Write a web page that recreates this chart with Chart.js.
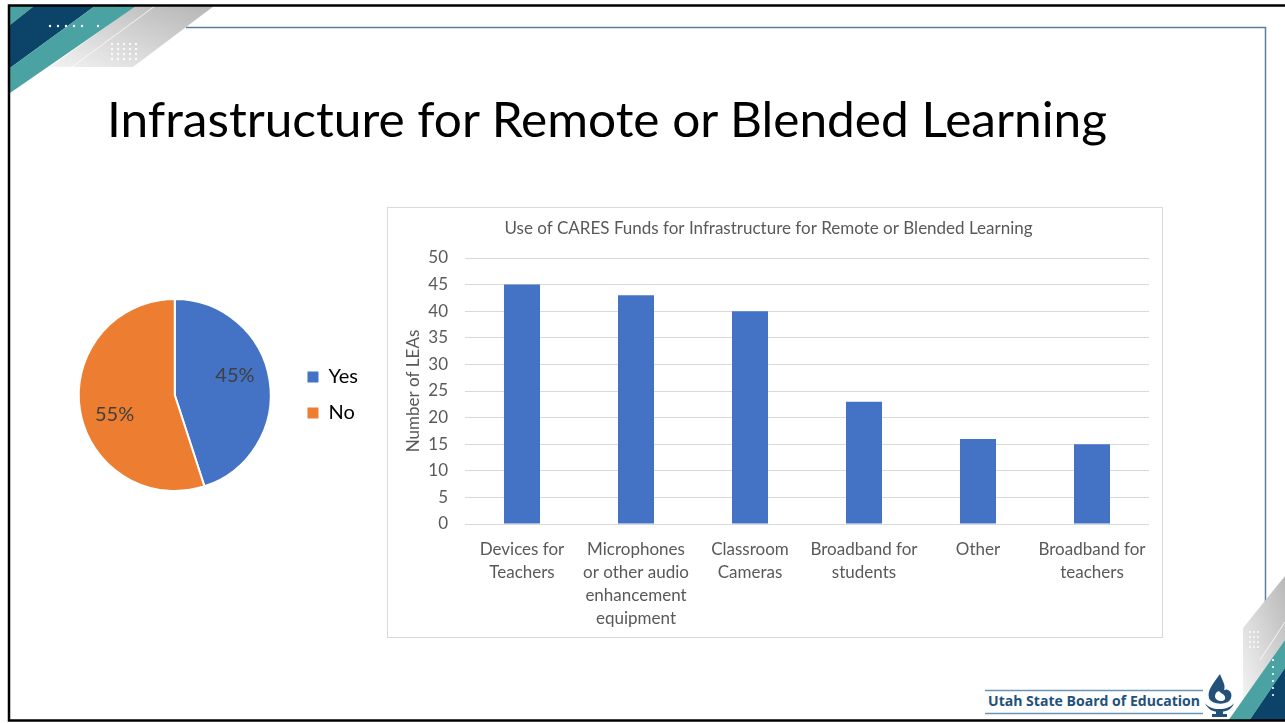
<!DOCTYPE html>
<html>
<head>
<meta charset="utf-8">
<script src="https://cdn.jsdelivr.net/npm/chart.js@4.4.1/dist/chart.umd.min.js"></script>
<style>
  html, body { margin:0; padding:0; background:#fff; }
  body { width:1285px; height:723px; position:relative; overflow:hidden; font-family: Lato, "Open Sans", sans-serif; }
  #deco { position:absolute; left:0; top:0; }
  .fit { position:absolute; white-space:nowrap; transform-origin:0 0; }
  #title { left:107px; top:95px; font-size:48px; line-height:1; color:#000; }
  #pieWrap { position:absolute; left:54px; top:245px; width:330px; height:300px; }
  #barBox { position:absolute; left:387px; top:207px; width:774px; height:429px; border:1px solid #d9d9d9; }
  canvas { display:block; }
  #logo { left:988px; top:694px; font-size:14px; line-height:1; font-weight:bold; color:#23517a; font-family:"Open Sans", Lato, sans-serif; }
</style>
</head>
<body>
<script>
// ---- data ----
const pieLabels = ["Yes", "No"];
const pieValues = [45, 55];
const pieColors = ["#4472C4", "#ED7D31"];

const barCategories = [
  ["Devices for", "Teachers"],
  ["Microphones", "or other audio", "enhancement", "equipment"],
  ["Classroom", "Cameras"],
  ["Broadband for", "students"],
  ["Other"],
  ["Broadband for", "teachers"]
];
const barValues = [45, 43, 40, 23, 16, 15];
const yTicks = [0, 5, 10, 15, 20, 25, 30, 35, 40, 45, 50];
const chartTitle = "Use of CARES Funds for Infrastructure for Remote or Blended Learning";
const yAxisTitle = "Number of LEAs";
</script>

<svg id="deco" width="1285" height="723" xmlns="http://www.w3.org/2000/svg">
  <defs>
    <linearGradient id="g1" x1="0" y1="1" x2="1" y2="0">
      <stop offset="0" stop-color="#f2f2f2"/>
      <stop offset="1" stop-color="#b5b5b5"/>
    </linearGradient>
    <linearGradient id="g2" x1="0" y1="1" x2="1" y2="0">
      <stop offset="0" stop-color="#f4f4f4"/>
      <stop offset="1" stop-color="#b8b8b8"/>
    </linearGradient>
  </defs>
  <polygon points="135,6 214,6 133,67 50,67" fill="url(#g1)"/>
  <line x1="155" y1="6" x2="72" y2="67" stroke="#ffffff" stroke-width="1" opacity="0.8"/>
  <polygon points="10,6 34,6 10,25" fill="#4aa3a2"/>
  <polygon points="34,6 95,6 10,68 10,25" fill="#0b4468"/>
  <polygon points="95,6 136,6 10,93 10,68" fill="#4aa3a2"/>
  <g fill="#ffffff">
    <circle cx="50" cy="26" r="1.2"/><circle cx="58" cy="26" r="1.2"/><circle cx="66" cy="26" r="1.2"/>
    <circle cx="74" cy="26" r="1.2"/><circle cx="82" cy="26" r="1.2"/><circle cx="98" cy="26" r="1.2"/>
  </g>
  <g fill="#ffffff" opacity="0.9">
    <circle cx="112" cy="44" r="1.2"/><circle cx="118" cy="44" r="1.2"/><circle cx="124" cy="44" r="1.2"/><circle cx="130" cy="44" r="1.2"/><circle cx="136" cy="44" r="1.2"/>
    <circle cx="112" cy="49" r="1.2"/><circle cx="118" cy="49" r="1.2"/><circle cx="124" cy="49" r="1.2"/><circle cx="130" cy="49" r="1.2"/><circle cx="136" cy="49" r="1.2"/>
    <circle cx="112" cy="54" r="1.2"/><circle cx="118" cy="54" r="1.2"/><circle cx="124" cy="54" r="1.2"/><circle cx="130" cy="54" r="1.2"/><circle cx="136" cy="54" r="1.2"/>
    <circle cx="112" cy="59" r="1.2"/><circle cx="118" cy="59" r="1.2"/><circle cx="124" cy="59" r="1.2"/><circle cx="130" cy="59" r="1.2"/><circle cx="136" cy="59" r="1.2"/>
  </g>
  <polyline points="186,27.5 1265.5,27.5 1265.5,606" fill="none" stroke="#5a7f9c" stroke-width="1.5"/>
  <polygon points="1243,628 1285,576 1285,640 1243,701" fill="url(#g2)"/>
  <line x1="1260" y1="660" x2="1285" y2="622" stroke="#ffffff" stroke-width="1" opacity="0.8"/>
  <polygon points="1228,721 1285,640 1285,668 1249,721" fill="#4aa3a2"/>
  <polygon points="1249,721 1285,668 1285,721" fill="#0b4468"/>
  <g fill="#ffffff" opacity="0.9">
    <circle cx="1250" cy="632" r="1"/><circle cx="1254" cy="632" r="1"/><circle cx="1258" cy="632" r="1"/>
    <circle cx="1250" cy="637" r="1"/><circle cx="1254" cy="637" r="1"/><circle cx="1258" cy="637" r="1"/>
    <circle cx="1250" cy="642" r="1"/><circle cx="1254" cy="642" r="1"/><circle cx="1258" cy="642" r="1"/>
    <circle cx="1250" cy="647" r="1"/><circle cx="1254" cy="647" r="1"/><circle cx="1258" cy="647" r="1"/>
  </g>
  <g fill="#ffffff">
    <circle cx="1273" cy="660" r="1.1"/><circle cx="1273" cy="667" r="1.1"/><circle cx="1273" cy="674" r="1.1"/>
    <circle cx="1273" cy="681" r="1.1"/><circle cx="1273" cy="688" r="1.1"/><circle cx="1273" cy="695" r="1.1"/>
  </g>
  <rect x="9" y="5.5" width="1290" height="715" fill="none" stroke="#000" stroke-width="2.5"/>
  <line x1="985" y1="690.5" x2="1203" y2="690.5" stroke="#6d93b3" stroke-width="1.5"/>
  <line x1="985" y1="713.5" x2="1203" y2="713.5" stroke="#6d93b3" stroke-width="1.5"/>
  <g fill="#23517a">
    <path d="M1220,674 C1213,684 1207,690 1209,698 C1211,705 1229,706 1231,698 C1233,692 1228,688 1224,690 C1226,685 1222,680 1220,674 Z"/>
    <path d="M1215,697 C1215,692 1219,690 1220,692 C1222,694 1226,695 1225,699 C1224,702 1216,702 1215,697 Z" fill="#ffffff"/>
    <path d="M1205,703 C1208,710 1214,712 1219,712 C1225,712 1232,710 1234,703 C1231,707 1226,709 1219,709 C1213,709 1208,707 1205,703 Z"/>
    <rect x="1216" y="711" width="7" height="3"/>
    <rect x="1212" y="714" width="15" height="3"/>
  </g>
</svg>

<div id="title" class="fit" data-w="1000">Infrastructure for Remote or Blended Learning</div>
<div id="logo" class="fit" data-w="212">Utah State Board of Education</div>

<div id="pieWrap"><canvas id="pie" width="330" height="300"></canvas></div>
<div id="barBox"><canvas id="bar" width="774" height="429"></canvas></div>

<script>
document.querySelectorAll('.fit').forEach(el => {
  const w = el.getBoundingClientRect().width;
  const target = parseFloat(el.dataset.w);
  el.style.transform = 'scaleX(' + (target / w) + ')';
});

Chart.defaults.font.family = 'Lato, "Open Sans", sans-serif';
Chart.defaults.color = '#595959';

const pieLabelPlugin = {
  id: 'pieLabels',
  afterDatasetsDraw(chart) {
    const ctx = chart.ctx;
    const meta = chart.getDatasetMeta(0);
    const total = pieValues.reduce((a, b) => a + b, 0);
    ctx.save();
    ctx.font = '20px Lato, "Open Sans", sans-serif';
    ctx.fillStyle = '#404040';
    ctx.textAlign = 'center';
    ctx.textBaseline = 'middle';
    meta.data.forEach((arc, i) => {
      const p = arc.getProps(['x', 'y', 'startAngle', 'endAngle', 'outerRadius']);
      const mid = (p.startAngle + p.endAngle) / 2 - 0.16;
      const r = p.outerRadius * 0.66;
      const txt = Math.round(pieValues[i] / total * 100) + '%';
      ctx.fillText(txt, p.x + Math.cos(mid) * r, p.y + Math.sin(mid) * r);
    });
    ctx.restore();
  }
};

new Chart(document.getElementById('pie'), {
  type: 'pie',
  data: {
    labels: pieLabels,
    datasets: [{ data: pieValues, backgroundColor: pieColors, borderColor: '#ffffff', borderWidth: 2 }]
  },
  options: {
    responsive: false,
    animation: false,
    devicePixelRatio: 1,
    layout: { padding: { left: 4, right: 16, top: 53, bottom: 53 } },
    plugins: {
      tooltip: { enabled: false },
      legend: {
        position: 'right',
        labels: {
          boxWidth: 11, boxHeight: 11, padding: 16,
          font: { size: 20 }, color: '#595959',
          generateLabels(chart) {
            return pieLabels.map((l, i) => ({ text: l, fillStyle: pieColors[i], strokeStyle: pieColors[i], lineWidth: 0, index: i, hidden: false }));
          }
        }
      }
    }
  },
  plugins: [pieLabelPlugin]
});

new Chart(document.getElementById('bar'), {
  type: 'bar',
  data: {
    labels: barCategories,
    datasets: [{ data: barValues, backgroundColor: '#4472C4', barPercentage: 0.316, categoryPercentage: 1 }]
  },
  options: {
    responsive: false,
    animation: false,
    devicePixelRatio: 1,
    layout: { padding: { left: 0, right: 13, top: 0, bottom: 0 } },
    plugins: {
      legend: { display: false },
      tooltip: { enabled: false },
      title: {
        display: true, text: chartTitle, color: '#595959',
        font: { size: 17, weight: 'normal', lineHeight: 1.2 },
        padding: { top: 10, bottom: 19.6 }
      }
    },
    scales: {
      x: {
        grid: { display: false },
        border: { display: false },
        ticks: { font: { size: 17, lineHeight: 1.35 }, color: '#595959', padding: 6, maxRotation: 0, autoSkip: false },
        afterFit(s) { s.height = 113; }
      },
      y: {
        min: 0, max: 50,
        afterBuildTicks(s) { s.ticks = yTicks.map(v => ({ value: v })); },
        grid: { color: '#d9d9d9', drawTicks: false },
        border: { display: false },
        ticks: { font: { size: 17 }, color: '#595959', padding: 17 },
        title: { display: true, text: yAxisTitle, color: '#595959', font: { size: 17, lineHeight: 1.2 }, padding: { top: 15.8, bottom: 0 } },
        afterFit(s) { s.width = 77; }
      }
    }
  }
});
</script>
</body>
</html>
